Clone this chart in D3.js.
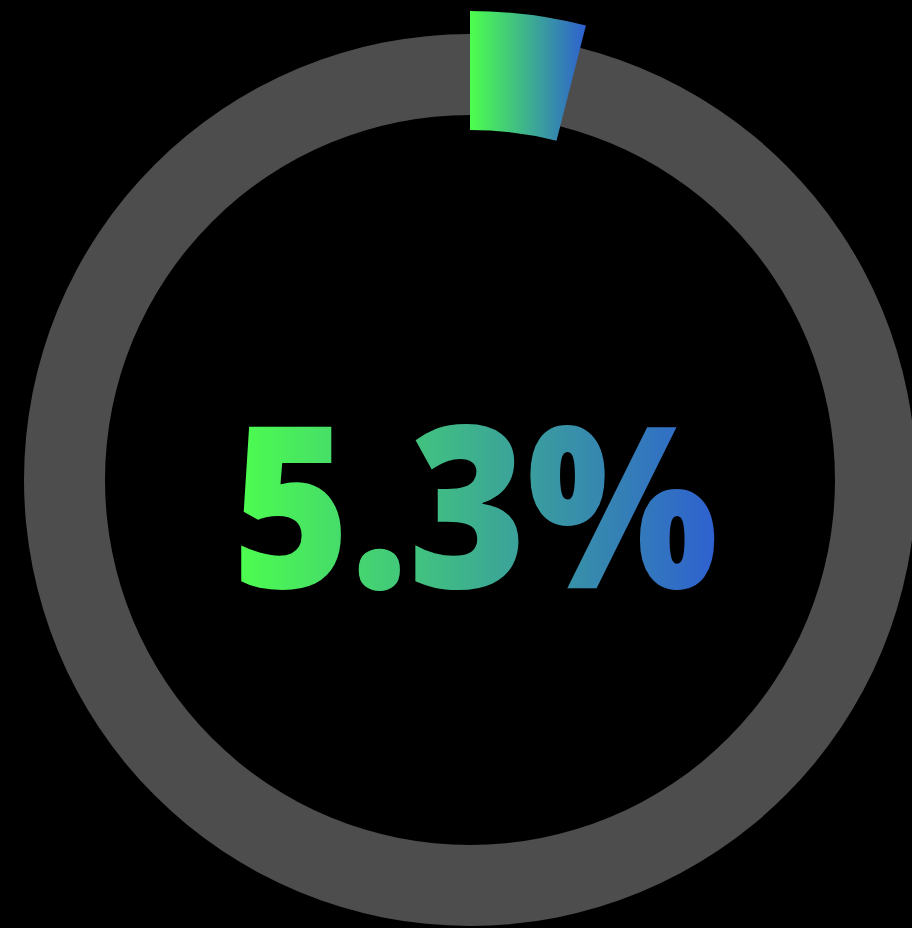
<!DOCTYPE html>
<html>
<head>
<meta charset="utf-8">
<script src="https://cdn.jsdelivr.net/npm/d3@7"></script>
<style>
  html, body { margin: 0; padding: 0; background: #000; overflow: hidden; }
  svg { display: block; }
</style>
</head>
<body>
<svg id="chart"></svg>
<script>
const width = 912;
const height = 928;

// data
const labels = ['5.3%'];
const values = [5.3];
const maxValue = [100];
const gradientStops = ['#4dff4d', '#2e60d0'];

const svg = d3.select('#chart')
  .attr('width', width)
  .attr('height', height)
  .style('background', '#000');

const cx = 470;
const cy = 480;

const defs = svg.append('defs');

// Gradient for arc and label
const makeGradient = id => {
  const g = defs.append('linearGradient')
    .attr('id', id)
    .attr('x1', '0%').attr('y1', '0%')
    .attr('x2', '100%').attr('y2', '0%');
  g.selectAll('stop')
    .data(gradientStops)
    .join('stop')
    .attr('offset', (d, i) => i / (gradientStops.length - 1))
    .attr('stop-color', d => d);
};
makeGradient('arcGrad');
makeGradient('textGrad');

const g = svg.append('g').attr('transform', `translate(${cx}, ${cy})`);

// background ring
const ring = d3.arc()
  .innerRadius(365)
  .outerRadius(446)
  .startAngle(0)
  .endAngle(2 * Math.PI);

g.append('path')
  .attr('d', ring())
  .attr('fill', '#4d4d4d');

// value arc (three quarter sweep scale)
const angle = d3.scaleLinear()
  .domain([0, maxValue[0]])
  .range([0, 1.5 * Math.PI]);

const valueArc = d3.arc()
  .innerRadius(350)
  .outerRadius(469)
  .startAngle(0)
  .endAngle(d => angle(d));

g.selectAll('.value-arc')
  .data(values)
  .join('path')
  .attr('class', 'value-arc')
  .attr('d', d => valueArc(d))
  .attr('fill', 'url(#arcGrad)');

// center label
g.selectAll('.value-label')
  .data(labels)
  .join('text')
  .attr('class', 'value-label')
  .attr('x', 5)
  .attr('y', 108)
  .attr('text-anchor', 'middle')
  .attr('textLength', 486)
  .attr('lengthAdjust', 'spacingAndGlyphs')
  .style('font-family', '"Open Sans", sans-serif')
  .style('font-weight', 800)
  .style('font-size', '226px')
  .style('fill', 'url(#textGrad)')
  .text(d => d);
</script>
</body>
</html>
